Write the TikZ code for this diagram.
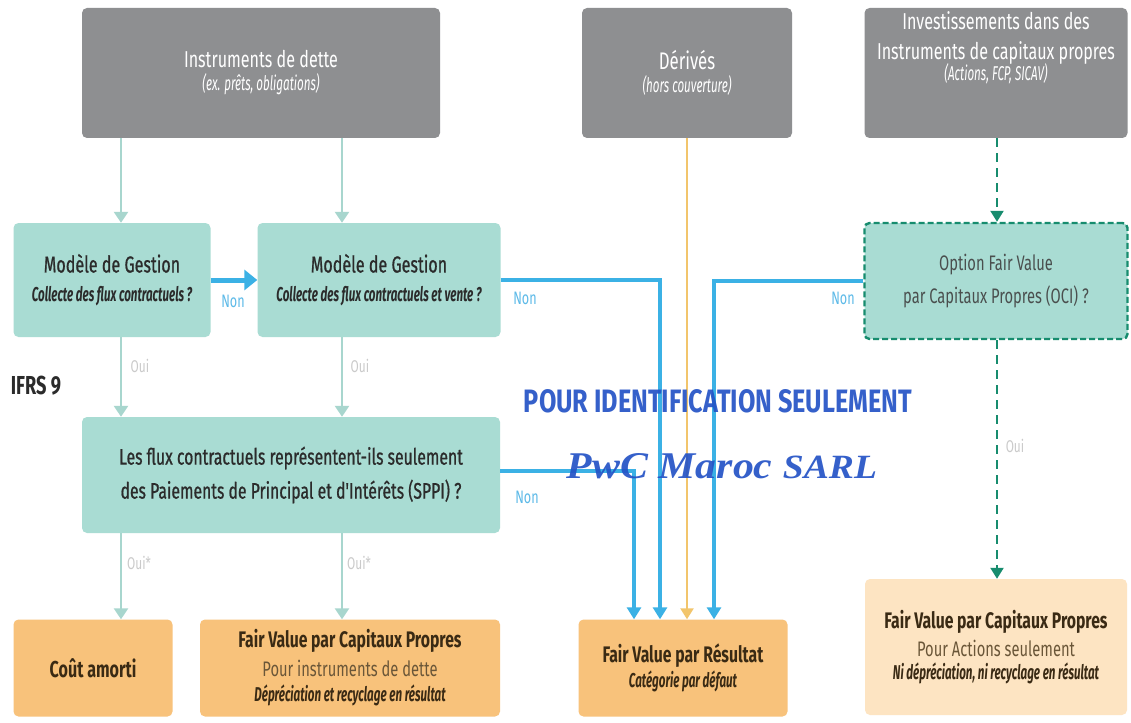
\documentclass[tikz,border=0pt]{standalone}
\usepackage{fontspec}
\setmainfont{Fira Sans}[FakeStretch=0.7]
\newfontfamily\medf{Fira Sans}[FakeStretch=0.7, FakeBold=0.8]
\newfontfamily\subf{Fira Sans}[FakeStretch=0.58]
\newfontfamily\wmsans{Fira Sans}[FakeStretch=0.6]
\newfontfamily\wmserif{Liberation Serif}
\usetikzlibrary{arrows.meta}
\definecolor{cgray}{HTML}{8E8F91}
\definecolor{cteal}{HTML}{A9DCD3}
\definecolor{ctealarrow}{HTML}{A8D6CE}
\definecolor{corange}{HTML}{F8C27B}
\definecolor{clight}{HTML}{FDE4C2}
\definecolor{cblue}{HTML}{3BB1E5}
\definecolor{cnon}{HTML}{5DBAE8}
\definecolor{coui}{HTML}{CACACA}
\definecolor{cyel}{HTML}{F2C56C}
\definecolor{cgreen}{HTML}{178C6E}
\definecolor{ctext}{HTML}{2B2B2B}
\definecolor{copt}{HTML}{4A4F4E}
\definecolor{cbrown}{HTML}{3A2A14}
\definecolor{cbrownl}{HTML}{6A5638}
\definecolor{cwm}{HTML}{2453C6}
\newcommand{\fs}[2]{\fontsize{#1}{#2}\selectfont}
\newcommand{\sub}[1]{{\subf\fontsize{20}{22}\selectfont\bfseries\itshape #1}}
\newcommand{\subr}[1]{{\subf\fontsize{20}{22}\selectfont\itshape #1}}
\begin{document}
\begin{tikzpicture}[x=1pt,y=-1pt,
  box/.style={rounded corners=5pt, inner sep=0pt, align=center},
  gbox/.style={box, fill=cgray, text=white},
  tbox/.style={box, fill=cteal, text=ctext},
  obox/.style={box, fill=corange, text=cbrown},
  lbox/.style={box, fill=clight, text=cbrown},
  tarrow/.style={draw=ctealarrow, line width=2.4pt, -{Triangle[width=14pt,length=11pt]}},
  barrow/.style={draw=cblue, line width=3.5pt, -{Triangle[width=14pt,length=12pt]}},
  yarrow/.style={draw=cyel, line width=2.4pt, -{Triangle[width=13pt,length=11pt]}},
  garrow/.style={draw=cgreen, line width=2.2pt, dash pattern=on 9pt off 6pt, -{Triangle[width=13pt,length=11pt]}},
  nonlab/.style={text=cnon, font=\fs{18}{20}, inner sep=0pt},
  ouilab/.style={text=coui, font=\fs{17}{19}, inner sep=0pt}
]
\useasboundingbox[fill=white] (0,0) rectangle (1131,722);

% column coordinates
\coordinate (xA) at (121,0);
\coordinate (xB) at (342,0);
\coordinate (xC) at (634,0);
\coordinate (xD) at (660,0);
\coordinate (xE) at (687,0);
\coordinate (xF) at (714,0);
\coordinate (xG) at (997,0);

% top row
\node[gbox, minimum width=358pt, minimum height=130pt, font=\fs{23}{24}] (inst) at (261,73)
  {Instruments de dette\\[-1pt]\subr{(ex. prêts, obligations)}};
\node[gbox, minimum width=210pt, minimum height=130pt, font=\fs{24}{24}] (der) at (687,73)
  {Dérivés\\[-1pt]\subr{(hors couverture)}};
\node[gbox, minimum width=263pt, minimum height=130pt] (inv) at (996,73) {};
\node[text=white, align=center, inner sep=0pt, anchor=north, font=\fs{23}{30}] (invtxt) at (996,11)
  {Investissements dans des\\Instruments de capitaux propres\\[-9pt]\subr{(Actions, FCP, SICAV)}};

% second row
\node[tbox, minimum width=197pt, minimum height=114pt, font=\medf\fs{23}{29}] (mg1) at (112,280)
  {Modèle de Gestion\\\sub{Collecte des flux contractuels ?}};
\node[tbox, minimum width=243pt, minimum height=114pt, font=\medf\fs{23}{29}] (mg2) at (379,280)
  {Modèle de Gestion\\\sub{Collecte des flux contractuels et vente ?}};
\node[tbox, minimum width=263pt, minimum height=116pt, draw=cgreen, line width=2.4pt,
      dash pattern=on 6pt off 3pt, text=copt, font=\fs{21}{33}] (opt) at (996,281)
  {Option Fair Value\\par Capitaux Propres (OCI) ?};

\node[text=ctext, inner sep=0pt, font=\fs{26}{28}\bfseries] (ifrs) at (36,386) {IFRS 9};

% SPPI
\node[tbox, minimum width=418pt, minimum height=116pt, font=\medf\fs{22.5}{34}] (sppi) at (291,475)
  {Les flux contractuels représentent-ils seulement\\des Paiements de Principal et d'Intérêts (SPPI) ?};

% bottom row
\node[obox, minimum width=159pt, minimum height=97pt, font=\fs{23}{26}\bfseries] (cout) at (93,668)
  {Coût amorti};
\node[obox, minimum width=300pt, minimum height=97pt, font=\fs{22.5}{29}] (fvocid) at (350,668)
  {\textbf{Fair Value par Capitaux Propres}\\{\fontsize{21}{29}\selectfont\color{cbrownl}Pour instruments de dette}\\[-4pt]\sub{Dépréciation et recyclage en résultat}};
\node[obox, minimum width=209pt, minimum height=97pt, font=\fs{22.5}{25}] (fvr) at (683,668)
  {\textbf{Fair Value par Résultat}\\\sub{Catégorie par défaut}};
\node[lbox, minimum width=262pt, minimum height=136pt, font=\fs{22.5}{28}] (fvoca) at (996,647)
  {\textbf{Fair Value par Capitaux Propres}\\{\fontsize{21}{28}\selectfont\color{cbrownl}Pour Actions seulement}\\[-5pt]\sub{Ni dépréciation, ni recyclage en résultat}};

% connectors
\draw[tarrow] (inst.south -| xA) -- (mg1.north -| xA);
\draw[tarrow] (inst.south -| xB) -- (mg2.north -| xB);
\draw[tarrow] (mg1.south -| xA) -- (sppi.north -| xA);
\draw[tarrow] (mg2.south -| xB) -- (sppi.north -| xB);
\draw[tarrow] (sppi.south -| xA) -- (cout.north -| xA);
\draw[tarrow] (sppi.south -| xB) -- (fvocid.north -| xB);

\draw[draw=cblue, line width=5pt, -{Triangle[width=20pt,length=13pt]}] (mg1.east) -- (mg2.west);
\draw[barrow] (mg2.east) -| (fvr.north -| xD);
\draw[barrow] ([yshift=4pt]sppi.east) -| (fvr.north -| xC);
\draw[barrow] (opt.west) -| (fvr.north -| xF);
\draw[yarrow] (der.south -| xE) -- (fvr.north -| xE);

\draw[garrow] (inv.south -| xG) -- (opt.north -| xG);
\draw[garrow] (opt.south -| xG) -- (fvoca.north -| xG);

% labels
\node[nonlab] (non1) at (233,301) {Non};
\node[nonlab] (non2) at (525,298) {Non};
\node[nonlab] (non3) at (843,298) {Non};
\node[nonlab] (non4) at (527,497) {Non};
\node[ouilab] (oui1) at (140,366) {Oui};
\node[ouilab] (oui2) at (360,366) {Oui};
\node[ouilab] (oui3) at (139,563) {Oui*};
\node[ouilab] (oui4) at (359,563) {Oui*};
\node[ouilab] (oui5) at (1015,446) {Oui};

% stamp
\node[text=cwm, inner sep=0pt, opacity=0.92] (stamp1) at (718,401)
  {\resizebox{388pt}{23pt}{\wmsans\bfseries POUR IDENTIFICATION SEULEMENT}};
\node[text=cwm, inner sep=0pt, opacity=0.92] (stamp2) at (722,466)
  {\resizebox{310pt}{25pt}{\wmserif\bfseries\itshape PwC Maroc {\fontsize{9}{10}\selectfont SARL}}};
\end{tikzpicture}
\end{document}
